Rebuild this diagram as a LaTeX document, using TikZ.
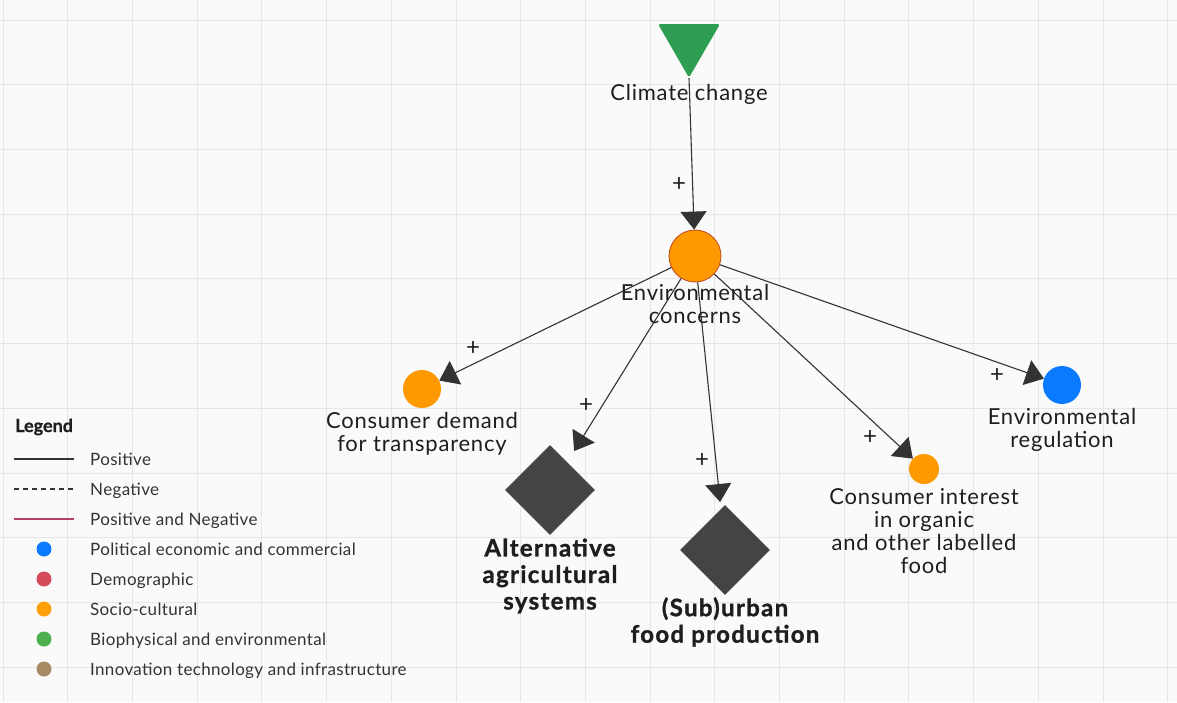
\documentclass[tikz,border=0pt]{standalone}
\usepackage{fontspec}
\setmainfont{Lato}
\usetikzlibrary{shapes.geometric,arrows.meta}
\definecolor{gridgrey}{HTML}{E6E6E6}
\definecolor{bg}{HTML}{FAFAFA}
\definecolor{ink}{HTML}{1E1E1E}
\definecolor{legink}{HTML}{333333}
\definecolor{edgegrey}{HTML}{333333}
\definecolor{climgreen}{HTML}{2E9E52}
\definecolor{socorange}{HTML}{FF9900}
\definecolor{socborder}{HTML}{C6501E}
\definecolor{polblue}{HTML}{0A7AFF}
\definecolor{demred}{HTML}{D64B5C}
\definecolor{legorange}{HTML}{FF9F0A}
\definecolor{biogreen}{HTML}{4CAF50}
\definecolor{innobrown}{HTML}{A68A64}
\definecolor{pnline}{HTML}{B5406E}
\definecolor{diamondgrey}{HTML}{444444}
\tikzset{
  conn/.style={draw=edgegrey, line width=1.1pt, -{Triangle[length=18pt,width=26pt]}},
  factor/.style={circle, inner sep=0pt},
  lever/.style={diamond, aspect=1, inner sep=0pt, minimum size=90pt, fill=diamondgrey},
  lbl/.style={align=center, text=ink, font=\fontsize{22}{23}\selectfont\addfontfeatures{LetterSpace=3.5}, inner sep=0pt},
  boldlbl/.style={align=center, text=ink, font=\fontsize{24}{26.5}\selectfont\bfseries\addfontfeatures{LetterSpace=5.5,FakeBold=1.2}, inner sep=0pt},
  sign/.style={text=ink, font=\fontsize{24}{24}\selectfont, inner sep=0pt},
  legtxt/.style={anchor=base west, text=legink, font=\fontsize{17}{18}\selectfont\addfontfeatures{LetterSpace=2}, inner sep=0pt},
  legdot/.style={circle, inner sep=0pt, minimum size=15pt},
  legline/.style={line width=1.2pt}
}
\begin{document}
\begin{tikzpicture}[x=1pt, y=-1pt]
% canvas and grid
\fill[bg] (0,0) rectangle (1177,702);
\useasboundingbox (0,0) rectangle (1177,702);
\foreach \i in {0,...,18} \draw[gridgrey, line width=0.8pt] ({3+64.7*\i},0) -- ({3+64.7*\i},702);
\foreach \j in {0,...,10} \draw[gridgrey, line width=0.8pt] (0,{20+64.7*\j}) -- (1177,{20+64.7*\j});

% factors
\node[regular polygon, regular polygon sides=3, shape border rotate=180,
      minimum size=71.6pt, inner sep=0pt, fill=climgreen, rounded corners=2.5pt] (cc) at (689,41.9) {};
\node[factor, minimum size=52pt, fill=socorange, draw=socborder, line width=0.9pt] (ec) at (695,256) {};
\node[factor, minimum size=38pt, fill=socorange] (cdt) at (422,389) {};
\node[lever] (aas) at (550,490) {};
\node[lever] (sfp) at (725,550) {};
\node[factor, minimum size=30pt, fill=socorange] (cio) at (924,469) {};
\node[factor, minimum size=38pt, fill=polblue] (er) at (1062,385) {};

% connectors
\draw[conn] (cc.corner 1) -- (ec);
\draw[conn] (ec) -- (cdt);
\draw[conn, shorten >=13pt] (ec) -- (aas);
\draw[conn, shorten >=7pt] (ec) -- (sfp);
\draw[conn] (ec) -- (cio);
\draw[conn] (ec) -- (er);

% labels
\node[lbl] (tcc) at (689,94) {Climate change};
\node[lbl] (tec) at (695,304) {Environmental\\concerns};
\node[lbl] (tcdt) at (422,434) {Consumer demand\\for transparency};
\node[boldlbl] (taas) at (550,576) {Alternative\\agricultural\\systems};
\node[boldlbl] (tsfp) at (725,622) {(Sub)urban\\food production};
\node[lbl] (tcio) at (924,531) {Consumer interest\\in organic\\and other labelled\\food};
\node[lbl] (ter) at (1062,430) {Environmental\\regulation};

% signs
\node[sign] (s1) at (679,184) {+};
\node[sign] (s2) at (473,348) {+};
\node[sign] (s3) at (586,405) {+};
\node[sign] (s4) at (702,460) {+};
\node[sign] (s5) at (870,437) {+};
\node[sign] (s6) at (997,375) {+};

% legend
\node[anchor=base west, inner sep=0pt, text=ink, font=\fontsize{18}{18}\selectfont\bfseries\addfontfeatures{FakeBold=0.8}] (lg) at (15,432) {Legend};
\draw[legline, edgegrey] (14,459) -- (74,459);
\node[legtxt] (l1) at (90,465) {Positive};
\draw[legline, edgegrey, dash pattern=on 5pt off 4pt] (14,489) -- (74,489);
\node[legtxt] (l2) at (90,495) {Negative};
\draw[legline, pnline] (14,519) -- (74,519);
\node[legtxt] (l3) at (90,525) {Positive and Negative};
\node[legdot, fill=polblue] (d1) at (44,549) {};
\node[legtxt] (l4) at (90,555) {Political economic and commercial};
\node[legdot, fill=demred] (d2) at (44,579) {};
\node[legtxt] (l5) at (90,585) {Demographic};
\node[legdot, fill=legorange] (d3) at (44,609) {};
\node[legtxt] (l6) at (90,615) {Socio-cultural};
\node[legdot, fill=biogreen] (d4) at (44,639) {};
\node[legtxt] (l7) at (90,645) {Biophysical and environmental};
\node[legdot, fill=innobrown] (d5) at (44,669) {};
\node[legtxt] (l8) at (90,675) {Innovation technology and infrastructure};
\end{tikzpicture}
\end{document}
